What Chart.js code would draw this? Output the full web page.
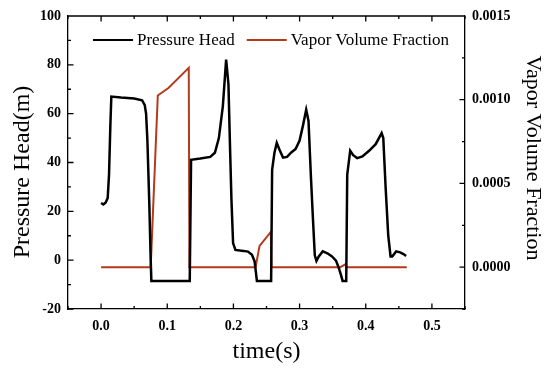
<!DOCTYPE html>
<html>
<head>
<meta charset="utf-8">
<script src="https://cdn.jsdelivr.net/npm/chart.js@4.4.1/dist/chart.umd.min.js"></script>
<style>
  html, body { margin: 0; padding: 0; background: #fff; }
  #wrap { width: 550px; height: 373px; }
</style>
</head>
<body>
<div id="wrap"><canvas id="grafica" width="550" height="373"></canvas></div>
<script>
// pressure head, left axis (m)
const time_head = [0.000, 0.0035, 0.007, 0.010, 0.012, 0.014, 0.0155, 0.030, 0.050, 0.062, 0.066, 0.068, 0.070, 0.073, 0.075, 0.076,
  0.134, 0.136, 0.150, 0.165, 0.172, 0.178, 0.184, 0.189, 0.1925, 0.195, 0.197, 0.1995, 0.203, 0.215, 0.222, 0.228, 0.232, 0.234, 0.2355,
  0.257, 0.2585, 0.262, 0.2655, 0.270, 0.275, 0.281, 0.287, 0.294, 0.300, 0.305, 0.310, 0.3135, 0.317, 0.320, 0.323, 0.3255, 0.329,
  0.335, 0.342, 0.349, 0.355, 0.359, 0.3625, 0.365, 0.3705, 0.372, 0.3765, 0.381, 0.387, 0.395, 0.405, 0.415, 0.424, 0.4265,
  0.430, 0.434, 0.4375, 0.440, 0.446, 0.452, 0.457, 0.461];
const values_head = [23.4, 22.8, 23.6, 25.5, 35, 55, 67.0, 66.6, 66.2, 65.5, 63.5, 60, 49, 22, 0, -8.5,
  -8.5, 41.1, 41.6, 42.3, 44, 50, 63, 82.1, 72, 45, 25, 7, 4.2, 3.8, 3.5, 2.2, -0.5, -5, -8.5,
  -8.5, 37, 44, 48, 45, 42, 42.3, 44, 45.5, 49, 55, 61.6, 57, 35, 18, 2, -0.3, 1.5,
  3.6, 2.8, 1.5, -0.2, -3, -6, -8.5, -8.5, 35, 44.8, 43, 41.8, 42.5, 44.8, 47.5, 52, 50,
  30, 10, 1.5, 1.5, 3.6, 3.2, 2.5, 1.7];

// vapor volume fraction, right axis
const time_vapor = [0, 0.075, 0.0857, 0.1018, 0.1325, 0.1335, 0.2335, 0.2395, 0.2565, 0.2575, 0.3615, 0.370, 0.3708, 0.462];
const values_vapor = [0, 0, 0.001025, 0.00107, 0.00119, 0, 0, 0.000127, 0.00021, 0, 0, 0.000018, 0, 0];

const labels_series = ['Pressure Head', 'Vapor Volume Fraction'];
const title_left = 'Pressure Head(m)';
const title_right = 'Vapor Volume Fraction';

// tick labels
const ticks_x = [0.0, 0.1, 0.2, 0.3, 0.4, 0.5];
const ticks_head = [-20, 0, 20, 40, 60, 80, 100];
const ticks_vapor = [0.0000, 0.0005, 0.0010, 0.0015];

const serif = 'Liberation Serif, Times New Roman, serif';
const tickFont = { family: serif, size: 14, weight: 'bold' };

function toPoints(xs, ys) {
    return xs.map((x, i) => ({ x: x, y: ys[i] }));
}

// ticks pointing into the plot, top frame line, legend and side titles
const innerTicks = {
    id: 'innerTicks',
    afterDraw(chart) {
        const c = chart.ctx;
        const a = chart.chartArea;
        const sx = chart.scales.x, sl = chart.scales.y, sr = chart.scales.y1;
        c.save();
        c.strokeStyle = '#000';
        c.lineWidth = 1.3;
        c.beginPath();
        c.moveTo(a.left, a.top);
        c.lineTo(a.right, a.top);

        function marks(scale, step, min, max, cb) {
            for (let v = min; v <= max + step / 10; v += step / 2) {
                const major = Math.abs(Math.round(v / step) * step - v) < step / 10;
                cb(scale.getPixelForValue(v), major ? 5.5 : 3);
            }
        }
        marks(sx, 0.1, -0.05, 0.55, (p, len) => {
            c.moveTo(p, a.bottom); c.lineTo(p, a.bottom - len);
            c.moveTo(p, a.top); c.lineTo(p, a.top + len);
        });
        marks(sl, 20, -20, 100, (p, len) => {
            c.moveTo(a.left, p); c.lineTo(a.left + len, p);
        });
        marks(sr, 0.0005, -0.00025, 0.0015, (p, len) => {
            c.moveTo(a.right, p); c.lineTo(a.right - len, p);
        });
        c.stroke();

        // legend inside the plot
        const ds = chart.data.datasets;
        let x = 93;
        const y = 40;
        c.font = '17px ' + serif;
        c.textBaseline = 'middle';
        c.textAlign = 'left';
        c.fillStyle = '#000';
        ds.forEach(d => {
            c.strokeStyle = d.borderColor;
            c.lineWidth = 2.2;
            c.beginPath();
            c.moveTo(x, y); c.lineTo(x + 40, y);
            c.stroke();
            c.fillText(d.label, x + 44, y + 1);
            x += 44 + c.measureText(d.label).width + 12;
        });

        // vertical axis titles
        c.textAlign = 'center';
        c.font = '24px ' + serif;
        c.save();
        c.translate(23, 172);
        c.rotate(-Math.PI / 2);
        c.fillText(title_left, 0, 0);
        c.restore();
        c.font = '22px ' + serif;
        c.save();
        c.translate(533, 158);
        c.rotate(Math.PI / 2);
        c.fillText(title_right, 0, 0);
        c.restore();
        c.restore();
    }
};

const ctx = document.getElementById('grafica').getContext('2d');

let ch = new Chart(ctx, {
    type: 'line',
    data: {
        datasets: [{
            label: labels_series[0],
            data: toPoints(time_head, values_head),
            borderColor: '#000000',
            borderWidth: 2.5,
            pointRadius: 0,
            yAxisID: 'y'
        }, {
            label: labels_series[1],
            data: toPoints(time_vapor, values_vapor),
            borderColor: '#b23b1c',
            borderWidth: 2,
            pointRadius: 0,
            yAxisID: 'y1'
        }]
    },
    options: {
        responsive: false,
        animation: false,
        devicePixelRatio: 1,
        layout: { padding: { top: 16, left: 0, right: 0, bottom: 0 } },
        plugins: {
            legend: { display: false },
            tooltip: { enabled: false }
        },
        scales: {
            x: {
                type: 'linear',
                min: -0.05,
                max: 0.55,
                afterBuildTicks: s => { s.ticks = ticks_x.map(v => ({ value: v })); },
                afterFit: s => { s.height = 64; },
                grid: { drawOnChartArea: false, drawTicks: false },
                border: { color: '#000', width: 1.3 },
                ticks: {
                    font: tickFont, color: '#000', padding: 9, maxRotation: 0,
                    callback: v => Number(v).toFixed(1)
                },
                title: { display: true, text: 'time(s)', color: '#000', font: { family: serif, size: 24 }, padding: { bottom: 7 } }
            },
            y: {
                position: 'left',
                min: -20,
                max: 100,
                afterBuildTicks: s => { s.ticks = ticks_head.map(v => ({ value: v })); },
                afterFit: s => { s.width = 68; },
                grid: { drawOnChartArea: false, drawTicks: false },
                border: { color: '#000', width: 1.3 },
                ticks: { font: tickFont, color: '#000', padding: 7 }
            },
            y1: {
                position: 'right',
                min: -0.00025,
                max: 0.0015,
                afterBuildTicks: s => { s.ticks = ticks_vapor.map(v => ({ value: v })); },
                afterFit: s => { s.width = 85; },
                grid: { drawOnChartArea: false, drawTicks: false },
                border: { color: '#000', width: 1.3 },
                ticks: {
                    font: tickFont, color: '#000', padding: 7,
                    callback: v => Number(v).toFixed(4)
                }
            }
        }
    },
    plugins: [innerTicks]
});
</script>
</body>
</html>
